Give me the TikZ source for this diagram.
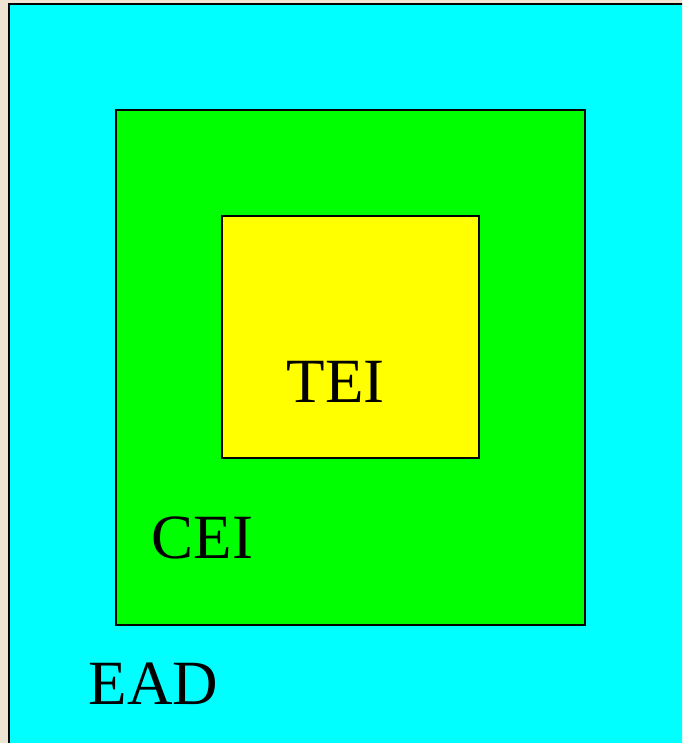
\documentclass[tikz,border=0pt]{standalone}
\usepackage{fontspec}
\setmainfont{Liberation Serif}
\definecolor{bgbeige}{RGB}{238,227,211}
\definecolor{eadcyan}{RGB}{0,255,255}
\definecolor{ceigreen}{RGB}{0,255,0}
\definecolor{teiyellow}{RGB}{255,255,0}
\tikzset{
  layer/.style={draw=black, line width=2pt},
  lbl/.style={anchor=base west, inner sep=0pt, font=\fontsize{63}{63}\selectfont, text=black}
}
\begin{document}
\begin{tikzpicture}[x=1pt,y=-1pt]
\useasboundingbox (0,0) rectangle (682,743);
\fill[bgbeige] (0,0) rectangle (682,743);
\begin{scope}
\clip (0,0) rectangle (682,743);
\draw[draw=black, line width=2.5pt, fill=eadcyan] (9,4) rectangle (700,760);
\end{scope}
\draw[layer, fill=ceigreen] (115.5,110.5) rectangle (584.5,624.5);
\draw[layer, fill=teiyellow] (221.5,216) rectangle (478.5,458);
\node[lbl] (tei) at (286.5,402) {TEI};
\node[lbl] (cei) at (151.5,558) {CEI};
\node[lbl] (ead) at (88.5,704) {EAD};
\end{tikzpicture}
\end{document}
